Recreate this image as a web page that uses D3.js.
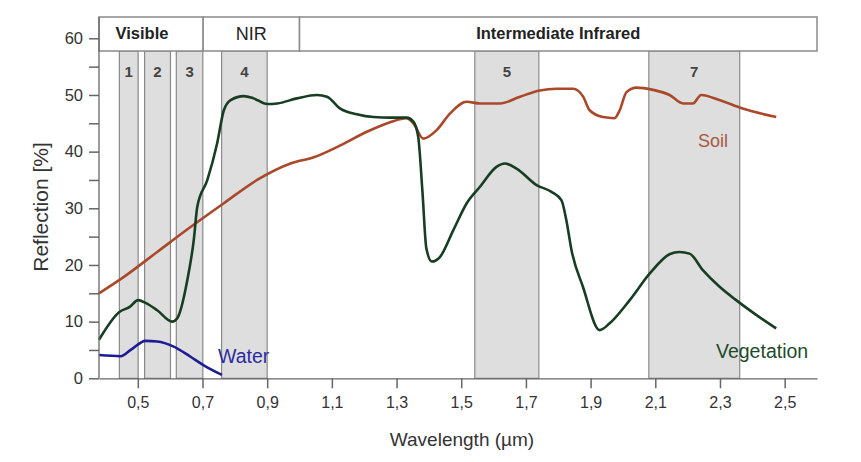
<!DOCTYPE html>
<html>
<head>
<meta charset="utf-8">
<script src="https://cdn.jsdelivr.net/npm/d3@7"></script>
<style>
  html, body { margin: 0; padding: 0; background: #fff; }
  svg { display: block; font-family: "Liberation Sans", Arial, sans-serif; }
</style>
</head>
<body>
<svg id="chart" width="861" height="462"></svg>
<script>
// Spectral reflectance curves (wavelength in µm, reflection in %)
const vegWavelength = [0.38, 0.443, 0.475, 0.501, 0.524, 0.56, 0.606, 0.622, 0.653, 0.673, 0.684, 0.715, 0.745, 0.766, 0.787, 0.828, 0.858, 0.9, 0.931, 0.992, 1.054, 1.085, 1.126, 1.177, 1.229, 1.28, 1.331, 1.352, 1.367, 1.38, 1.392, 1.409, 1.434, 1.476, 1.517, 1.558, 1.609, 1.635, 1.671, 1.733, 1.779, 1.81, 1.825, 1.841, 1.876, 1.928, 1.959, 2.021, 2.083, 2.144, 2.175, 2.206, 2.247, 2.298, 2.35, 2.412, 2.474];
const vegReflection = [6.8, 11.7, 12.6, 13.8, 13.3, 12.0, 10.0, 10.6, 17.3, 24.4, 30.3, 35.0, 41.4, 47.3, 49.1, 49.8, 49.4, 48.4, 48.5, 49.4, 50.0, 49.7, 47.6, 46.6, 46.1, 46.0, 46.0, 45.3, 42.6, 33.0, 23.0, 20.6, 21.4, 26.2, 30.9, 33.8, 37.3, 37.9, 37.0, 34.1, 32.9, 31.4, 27.9, 22.6, 16.2, 8.5, 9.7, 13.8, 18.5, 21.9, 22.3, 22.0, 19.1, 16.2, 13.8, 11.2, 8.8];

const soilWavelength = [0.38, 0.457, 0.56, 0.663, 0.766, 0.869, 0.972, 1.044, 1.126, 1.208, 1.28, 1.331, 1.352, 1.383, 1.424, 1.465, 1.517, 1.558, 1.62, 1.682, 1.743, 1.795, 1.846, 1.877, 1.897, 1.938, 1.974, 1.99, 2.011, 2.042, 2.093, 2.144, 2.186, 2.216, 2.242, 2.298, 2.37, 2.474];
const soilReflection = [15.0, 17.9, 22.3, 26.7, 30.9, 35.0, 37.9, 39.0, 41.1, 43.5, 45.2, 45.9, 45.0, 42.3, 43.8, 46.7, 48.8, 48.5, 48.5, 49.7, 50.8, 51.1, 51.1, 49.7, 47.3, 46.1, 45.9, 47.3, 50.5, 51.3, 50.9, 50.0, 48.5, 48.5, 50.0, 49.1, 47.6, 46.1];

const waterWavelength = [0.38, 0.447, 0.478, 0.524, 0.56, 0.611, 0.663, 0.704, 0.76];
const waterReflection = [4.1, 3.9, 5.0, 6.6, 6.5, 5.6, 3.8, 2.3, 0.6];

// Sensor bands (µm)
const bandNames = ["1", "2", "3", "4", "5", "7"];
const bandStart = [0.443, 0.521, 0.619, 0.759, 1.542, 2.08];
const bandEnd   = [0.501, 0.601, 0.701, 0.9, 1.74, 2.361];

// Spectral regions along the top
const regionNames = ["Visible", "NIR", "Intermediate Infrared"];
const regionStart = [0.38, 0.702, 1.0];
const regionEnd   = [0.702, 1.0, 2.6];

const xTicks = [0.5, 0.7, 0.9, 1.1, 1.3, 1.5, 1.7, 1.9, 2.1, 2.3, 2.5];
const yTicks = [0, 5, 10, 15, 20, 25, 30, 35, 40, 45, 50, 55, 60];
const yLabels = [0, 10, 20, 30, 40, 50, 60];

const svg = d3.select("#chart");

const x = d3.scaleLinear().domain([0.38, 2.6]).range([99, 817]);
const y = d3.scaleLinear().domain([0, 60]).range([378.3, 38.3]);

const headerTop = 17, headerBottom = 51;
const axisColor = "#666";
const textColor = "#333";

// Band shading
const bands = bandNames.map((n, i) => ({ name: n, a: bandStart[i], b: bandEnd[i] }));
const bandG = svg.append("g");
bandG.selectAll("rect").data(bands).join("rect")
  .attr("x", d => x(d.a))
  .attr("y", headerBottom)
  .attr("width", d => x(d.b) - x(d.a))
  .attr("height", y(0) - headerBottom)
  .attr("fill", "#dedede")
  .attr("stroke", "#8a8a8a")
  .attr("stroke-width", 1.2);
bandG.selectAll("text").data(bands).join("text")
  .attr("x", d => (x(d.a) + x(d.b)) / 2)
  .attr("y", 73.5)
  .attr("text-anchor", "middle")
  .attr("dominant-baseline", "middle")
  .attr("font-size", 15)
  .attr("font-weight", "bold")
  .attr("fill", "#444")
  .text(d => d.name);

// Region header boxes
const regions = regionNames.map((n, i) => ({ name: n, a: regionStart[i], b: regionEnd[i] }));
const headG = svg.append("g");
headG.selectAll("rect").data(regions).join("rect")
  .attr("x", d => x(d.a))
  .attr("y", headerTop)
  .attr("width", d => x(d.b) - x(d.a))
  .attr("height", headerBottom - headerTop)
  .attr("fill", "#fff")
  .attr("stroke", "#8a8a8a")
  .attr("stroke-width", 1.5);
headG.selectAll("text").data(regions).join("text")
  .attr("x", (d, i) => i === 0 ? 142 : (x(d.a) + x(d.b)) / 2)
  .attr("y", (headerTop + headerBottom) / 2 + 1)
  .attr("text-anchor", "middle")
  .attr("dominant-baseline", "middle")
  .attr("font-size", (d, i) => i === 1 ? 18 : 16.5)
  .attr("font-weight", (d, i) => i === 1 ? "normal" : "bold")
  .attr("fill", "#222")
  .text(d => d.name);

// Curves
const line = d3.line()
  .x(d => x(d[0]))
  .y(d => y(d[1]))
  .curve(d3.curveMonotoneX);

const series = [
  { w: soilWavelength, r: soilReflection, color: "#a9492a" },
  { w: vegWavelength, r: vegReflection, color: "#173d22" },
  { w: waterWavelength, r: waterReflection, color: "#1c1c94" }
];
svg.append("g").selectAll("path").data(series).join("path")
  .attr("d", s => line(s.w.map((w, i) => [w, s.r[i]])))
  .attr("fill", "none")
  .attr("stroke", s => s.color)
  .attr("stroke-width", 2.6)
  .attr("stroke-linejoin", "round");

// Series labels
const labelG = svg.append("g");
labelG.append("text").attr("x", 218).attr("y", 358).attr("dominant-baseline", "middle")
  .attr("font-size", 19.5).attr("fill", "#2b2b9e").text("Water");
labelG.append("text").attr("x", 698).attr("y", 142).attr("dominant-baseline", "middle")
  .attr("font-size", 18).attr("fill", "#a8583e").text("Soil");
labelG.append("text").attr("x", 716).attr("y", 353).attr("dominant-baseline", "middle")
  .attr("font-size", 19.5).attr("fill", "#1e4a2a").text("Vegetation");

// Axes
const fmt = v => d3.format(".1f")(v).replace(".", ",");
const xAxis = d3.axisBottom(x).tickValues(xTicks).tickFormat(fmt).tickSize(10).tickPadding(8).tickSizeOuter(0);
const gx = svg.append("g").attr("transform", `translate(0,${y(0)})`).call(xAxis);
gx.select(".domain").attr("stroke", axisColor).attr("stroke-width", 1.3);
gx.selectAll(".tick line").attr("stroke", axisColor).attr("stroke-width", 1.5);
gx.selectAll(".tick text").attr("font-size", 16).attr("fill", textColor).attr("font-family", null);

const yAxis = d3.axisLeft(y).tickValues(yTicks)
  .tickFormat(v => yLabels.includes(v) ? v : "")
  .tickSize(10).tickPadding(6).tickSizeOuter(0);
const gy = svg.append("g").attr("transform", `translate(${x(0.38)},0)`).call(yAxis);
gy.select(".domain").remove();
gy.append("line").attr("x1", 0).attr("x2", 0).attr("y1", headerTop).attr("y2", y(0))
  .attr("stroke", axisColor).attr("stroke-width", 1.3);
gy.selectAll(".tick line").attr("stroke", axisColor).attr("stroke-width", 1.5);
gy.selectAll(".tick text").attr("font-size", 16.5).attr("fill", textColor).attr("font-family", null);

// Axis titles
svg.append("text")
  .attr("x", 462).attr("y", 441)
  .attr("text-anchor", "middle").attr("dominant-baseline", "middle")
  .attr("font-size", 19).attr("fill", textColor)
  .text("Wavelength (µm)");
svg.append("text")
  .attr("transform", "translate(42,207) rotate(-90)")
  .attr("text-anchor", "middle").attr("dominant-baseline", "middle")
  .attr("font-size", 21).attr("fill", textColor)
  .text("Reflection [%]");
</script>
</body>
</html>
